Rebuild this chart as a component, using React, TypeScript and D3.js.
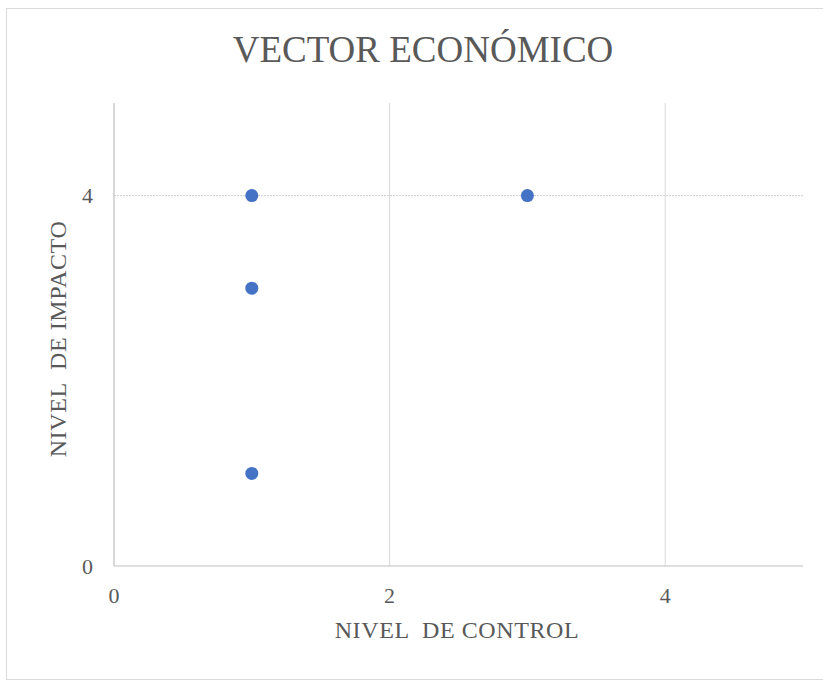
import React from "react";
import * as d3 from "d3";

// Scatter points: nivel de control (x) vs nivel de impacto (y)
const controlValues = [1, 1, 1, 3];
const impactValues = [4, 3, 1, 4];
const xTicks = [0, 2, 4];
const yTicks = [0, 4];
const chartTitle = "VECTOR ECONÓMICO";
const xTitle = "NIVEL  DE CONTROL";
const yTitle = "NIVEL  DE IMPACTO";

const W = 823;
const H = 681;
const margin = { left: 114, right: 20, top: 103, bottom: 115 };
const FONT = "'Liberation Serif', 'Times New Roman', serif";
const TEXT = "#595959";
const textStyle: React.CSSProperties = { fontFamily: FONT, whiteSpace: "pre" };

export default function App() {
  const x = d3.scaleLinear().domain([0, 5]).range([margin.left, W - margin.right]);
  const y = d3.scaleLinear().domain([0, 5]).range([H - margin.bottom, margin.top]);
  const points = controlValues.map((c, i) => ({ c, v: impactValues[i] }));

  return (
    <svg
      width={W}
      height={H}
      style={{ position: "absolute", left: 0, top: 0, background: "#fff" }}
    >
      <rect x={6.5} y={8.5} width={W} height={671} fill="#fff" stroke="#d9d9d9" />

      <text x={423} y={62} textAnchor="middle" fontSize={37} fill={TEXT} style={textStyle}>
        {chartTitle}
      </text>

      {/* vertical gridlines */}
      {xTicks.filter((t) => t !== 0).map((t) => (
        <line key={"gx" + t} x1={x(t)} x2={x(t)} y1={y(5)} y2={y(0)} stroke="#d9d9d9" strokeWidth={1} />
      ))}
      {/* horizontal gridlines */}
      {yTicks.filter((t) => t !== 0).map((t) => (
        <line key={"gy" + t} x1={x(0)} x2={x(5)} y1={y(t)} y2={y(t)} stroke="#cfcfcf" strokeWidth={1} strokeDasharray="2,1" />
      ))}

      {/* axes */}
      <line x1={x(0)} x2={x(0)} y1={y(5)} y2={y(0)} stroke="#bfbfbf" strokeWidth={1.2} />
      <line x1={x(0)} x2={x(5)} y1={y(0)} y2={y(0)} stroke="#bfbfbf" strokeWidth={1.2} />

      {xTicks.map((t) => (
        <text key={"tx" + t} x={x(t)} y={603} textAnchor="middle" fontSize={22} fill={TEXT} style={textStyle}>
          {t}
        </text>
      ))}
      {yTicks.map((t) => (
        <text key={"ty" + t} x={93} y={y(t)} dy="0.35em" textAnchor="end" fontSize={22} fill={TEXT} style={textStyle}>
          {t}
        </text>
      ))}

      <text x={457} y={638} textAnchor="middle" fontSize={24} letterSpacing={0.6} fill={TEXT} style={textStyle}>
        {xTitle}
      </text>
      <text
        transform={`translate(66, ${339}) rotate(-90)`}
        textAnchor="middle"
        fontSize={24}
        letterSpacing={0.6}
        fill={TEXT}
        style={textStyle}
      >
        {yTitle}
      </text>

      {points.map((p, i) => (
        <circle key={i} cx={x(p.c)} cy={y(p.v)} r={6.5} fill="#4472C4" />
      ))}
    </svg>
  );
}
